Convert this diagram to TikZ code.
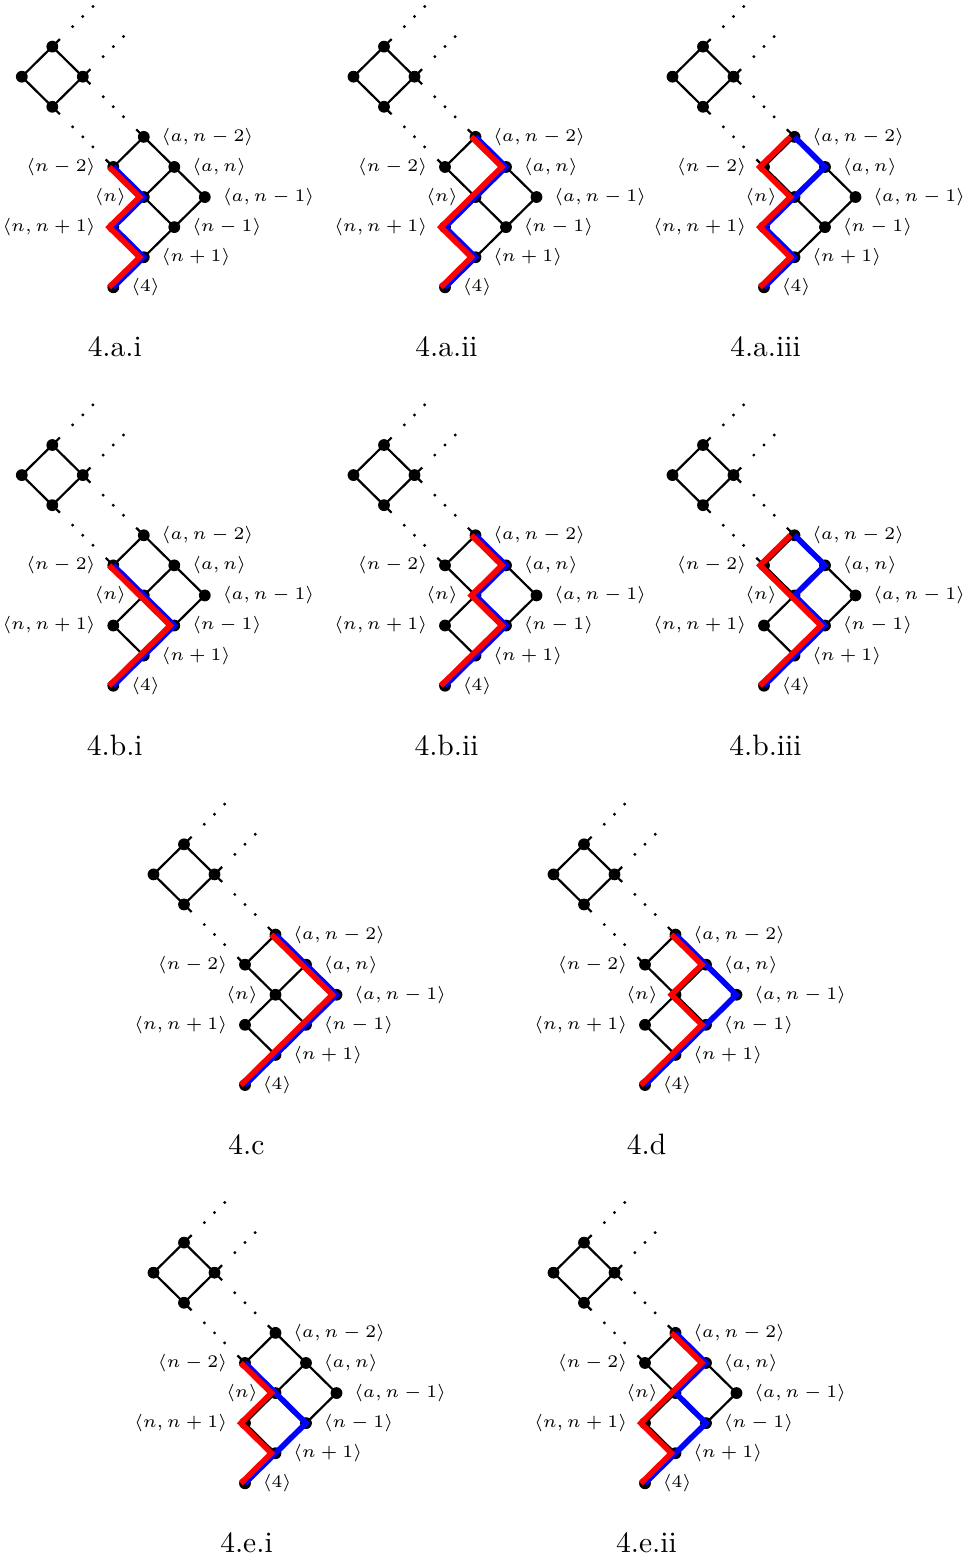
\documentclass[tikz,border=0pt]{standalone}
\usetikzlibrary{calc}
\tikzset{
  dot/.style={circle, fill=black, inner sep=0pt, minimum size=4pt},
  lbl/.style={font=\fontsize{6.3}{7.5}\selectfont, inner sep=0pt},
  edge/.style={line width=0.75pt, draw=black},
  bluepath/.style={draw=blue, line width=1.9pt},
  redpath/.style={draw=red, line width=1.9pt, transform canvas={xshift=-1.4pt}},
  figcaption/.style={anchor=base, inner sep=0pt},
  every label/.style={lbl},
  label distance=3.6pt
}
\newcommand\latticepanel[5]{%
\begin{scope}[shift={(#1,#2)}, x=10.34pt, y=10.2pt]
  \node[dot, label={right:{$\langle 4\rangle$}}] (four) at (0,0) {};
  \node[dot, label={right:{$\langle n+1\rangle$}}] (np1) at (1,1) {};
  \node[dot, label={left:{$\langle n,n+1\rangle$}}] (nnp) at (0,2) {};
  \node[dot, label={right:{$\langle n-1\rangle$}}] (nm1) at (2,2) {};
  \node[dot, label={left:{$\langle n\rangle$}}] (nn) at (1,3) {};
  \node[dot, label={right:{$\langle a,n-1\rangle$}}] (anm1) at (3,3) {};
  \node[dot, label={left:{$\langle n-2\rangle$}}] (nm2) at (0,4) {};
  \node[dot, label={right:{$\langle a,n\rangle$}}] (an) at (2,4) {};
  \node[dot, label={right:{$\langle a,n-2\rangle$}}] (anm2) at (1,5) {};
  \node[dot] (dT) at (-2,8) {};
  \node[dot] (dL) at (-3,7) {};
  \node[dot] (dR) at (-1,7) {};
  \node[dot] (dB) at (-2,6) {};
  \draw[edge] (four.center) -- (np1.center) -- (nnp.center) -- (nn.center) -- (nm2.center) -- (anm2.center) -- (an.center) -- (anm1.center) -- (nm1.center) -- (np1.center);
  \draw[edge] (nn.center) -- (nm1.center);
  \draw[edge] (nn.center) -- (an.center);
  \draw[edge] (dT.center) -- (dL.center) -- (dB.center) -- (dR.center) -- cycle;
  \draw[edge] (nm2.center) -- ++(-0.25,0.25);
  \draw[edge] (anm2.center) -- ++(-0.25,0.25);
  \draw[edge] (dT.center) -- ++(0.25,0.25);
  \draw[edge] (dR.center) -- ++(0.25,0.25);
  \draw[edge] (dR.center) -- ++(0.25,-0.25);
  \draw[edge] (dB.center) -- ++(0.25,-0.25);
  \foreach \t in {0.3333,0.5,0.6667} {
    \fill ($(dR.center)!\t!(anm2.center)$) circle[radius=0.55pt];
    \fill ($(dB.center)!\t!(nm2.center)$) circle[radius=0.55pt];
  }
  \foreach \d in {0.6667,1,1.3333} {
    \fill ($(dT.center)+(\d,\d)$) circle[radius=0.55pt];
    \fill ($(dR.center)+(\d,\d)$) circle[radius=0.55pt];
  }
  \draw[bluepath] #5;
  \draw[redpath] #4;
\end{scope}
\node[figcaption] (cap#3) at (#1+1.5,#2+69.5) {4.#3};
}
\begin{document}
\begin{tikzpicture}[x=0.339pt, y=-0.339pt]
\useasboundingbox (0,0) rectangle (964,1562);
% row 1
\latticepanel{113.3}{287.3}{a.i}
  {(nm2.center) -- (nn.center) -- (nnp.center) -- (np1.center) -- (four.center)}
  {(nm2.center) -- (nn.center) -- (nnp.center) -- (np1.center) -- (four.center)}
\latticepanel{445}{287.3}{a.ii}
  {(anm2.center) -- (an.center) -- (nn.center) -- (nnp.center) -- (np1.center) -- (four.center)}
  {(anm2.center) -- (an.center) -- (nn.center) -- (nnp.center) -- (np1.center) -- (four.center)}
\latticepanel{764}{287.3}{a.iii}
  {(anm2.center) -- (nm2.center) -- (nn.center) -- (nnp.center) -- (np1.center) -- (four.center)}
  {(anm2.center) -- (an.center) -- (nn.center) -- (nnp.center) -- (np1.center) -- (four.center)}
% row 2
\latticepanel{113.3}{685.7}{b.i}
  {(nm2.center) -- (nn.center) -- (nm1.center) -- (np1.center) -- (four.center)}
  {(nm2.center) -- (nn.center) -- (nm1.center) -- (np1.center) -- (four.center)}
\latticepanel{445}{685.7}{b.ii}
  {(anm2.center) -- (an.center) -- (nn.center) -- (nm1.center) -- (np1.center) -- (four.center)}
  {(anm2.center) -- (an.center) -- (nn.center) -- (nm1.center) -- (np1.center) -- (four.center)}
\latticepanel{764}{685.7}{b.iii}
  {(anm2.center) -- (nm2.center) -- (nn.center) -- (nm1.center) -- (np1.center) -- (four.center)}
  {(anm2.center) -- (an.center) -- (nn.center) -- (nm1.center) -- (np1.center) -- (four.center)}
% row 3
\latticepanel{245}{1085}{c}
  {(anm2.center) -- (an.center) -- (anm1.center) -- (nm1.center) -- (np1.center) -- (four.center)}
  {(anm2.center) -- (an.center) -- (anm1.center) -- (nm1.center) -- (np1.center) -- (four.center)}
\latticepanel{645}{1085}{d}
  {(anm2.center) -- (an.center) -- (nn.center) -- (nm1.center) -- (np1.center) -- (four.center)}
  {(anm2.center) -- (an.center) -- (anm1.center) -- (nm1.center) -- (np1.center) -- (four.center)}
% row 4
\latticepanel{245}{1483.3}{e.i}
  {(nm2.center) -- (nn.center) -- (nnp.center) -- (np1.center) -- (four.center)}
  {(nm2.center) -- (nn.center) -- (nm1.center) -- (np1.center) -- (four.center)}
\latticepanel{645}{1483.3}{e.ii}
  {(anm2.center) -- (an.center) -- (nn.center) -- (nnp.center) -- (np1.center) -- (four.center)}
  {(anm2.center) -- (an.center) -- (nn.center) -- (nm1.center) -- (np1.center) -- (four.center)}
\end{tikzpicture}
\end{document}
